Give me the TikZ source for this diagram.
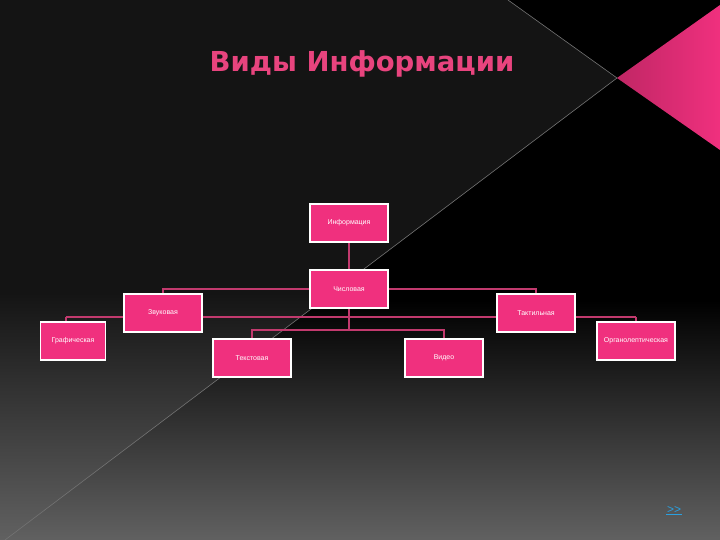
\documentclass[tikz,border=0pt]{standalone}
\usepackage{fontspec}
\setmainfont{DejaVu Sans}
\newfontfamily\boxfont{Liberation Sans}
\begin{document}
\begin{tikzpicture}[x=1pt,y=-1pt,
  kbox/.style={draw=white,line width=1.5pt,fill=pinkbox,minimum width=78pt,minimum height=38pt,inner sep=0pt,text=white,font=\boxfont\fontsize{7}{8}\selectfont},
  conn/.style={draw=pinkline,line width=2pt}]
\definecolor{pinkbox}{HTML}{F0307E}
\definecolor{pinkline}{HTML}{C23A6E}
\definecolor{titlepink}{HTML}{E8447E}
\definecolor{linkblue}{HTML}{2AA0E0}
\useasboundingbox (0,0) rectangle (720,540);
\fill[black] (0,0) rectangle (720,540);
\shade[top color=black,bottom color=black!62!white] (0,300) rectangle (720,540);
\fill[black!92!white] (0,0) -- (508,0) -- (617,78) -- (330,295) -- (0,295) -- cycle;
\shade[top color=black!92!white,bottom color=black!62!white] (0,294) -- (331,294) -- (5,540) -- (0,540) -- cycle;
\shade[left color=pinkbox!80!black,right color=pinkbox] (617,78) -- (720,5) -- (720,150) -- cycle;
\draw[black!55!white,line width=0.6pt] (508,0) -- (617,78) -- (5,540);
\node[font=\bfseries\fontsize{27.5}{30}\selectfont,text=titlepink] (title) at (362,64) {Виды Информации};
\coordinate (hl) at (66,317);
\coordinate (hr) at (636,317);
\draw[conn] (hl) -- (hr);
\draw[conn] (349,223) -- (349,289);
\draw[conn] (349,289) -- (163,289) -- (163,313);
\draw[conn] (349,289) -- (536,289) -- (536,313);
\draw[conn] (349,289) -- (349,330) coordinate (mid);
\draw[conn] (252,358) -- (252,330) -- (444,330) -- (444,358);
\draw[conn] (hl) -- (66,341);
\draw[conn] (hr) -- (636,341);
\node[kbox] (info) at (349,223) {Информация};
\node[kbox] (num) at (349,289) {Числовая};
\node[kbox] (snd) at (163,313) {Звуковая};
\node[kbox] (tac) at (536,313) {Тактильная};
\node[kbox,minimum width=65pt] (gra) at (73,341) {Графическая};
\node[kbox] (org) at (636,341) {Органолептическая};
\node[kbox] (txt) at (252,358) {Текстовая};
\node[kbox] (vid) at (444,358) {Видео};
\node[text=linkblue,font=\boxfont\fontsize{12}{12}\selectfont,inner sep=1pt] (nxt) at (674,510) {\textgreater\textgreater};
\draw[linkblue,line width=0.7pt] (nxt.south west) -- (nxt.south east);
\end{tikzpicture}
\end{document}
